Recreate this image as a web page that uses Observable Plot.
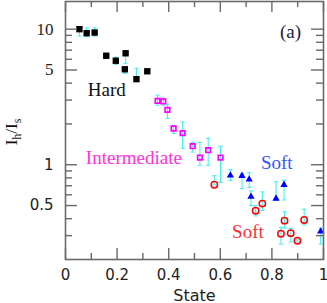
<!DOCTYPE html>
<html><head><meta charset="utf-8">
<script src="https://cdn.jsdelivr.net/npm/d3@7"></script>
<script src="https://cdn.jsdelivr.net/npm/@observablehq/plot@0.6"></script>
<style>body{margin:0;background:#fff}</style>
</head><body><div id="chart"></div>
<script>
// Hard state (filled black squares)
const hardX  = [0.054, 0.082, 0.113, 0.158, 0.195, 0.233, 0.230, 0.275, 0.317];
const hardY  = [10.0, 9.34, 9.44, 6.37, 5.85, 6.64, 5.06, 4.28, 4.89];
const hardLo = [8.9, 8.8, 8.9, 6.2, 5.5, 5.6, 4.72, 4.28, 4.8];
const hardHi = [10.4, 10.2, 10.2, 6.5, 6.2, 6.94, 5.28, 5.14, 5.0];
// Intermediate state (open magenta squares)
const interX  = [0.357, 0.379, 0.395, 0.419, 0.454, 0.493, 0.521, 0.553, 0.601];
const interY  = [2.96, 2.93, 2.54, 1.85, 1.71, 1.37, 1.13, 1.28, 1.13];
const interLo = [2.75, 2.75, 2.2, 1.7, 1.32, 1.24, 0.99, 0.99, 0.74];
const interHi = [3.26, 3.1, 2.8, 1.95, 2.06, 1.47, 1.46, 1.57, 1.37];
// Soft state (blue filled triangles)
const blueX  = [0.639, 0.684, 0.712, 0.719, 0.816, 0.847, 0.989];
const blueY  = [0.833, 0.829, 0.778, 0.582, 0.563, 0.711, 0.322];
const blueLo = [0.765, 0.667, 0.68, 0.5, 0.545, 0.55, 0.26];
const blueHi = [0.92, 0.86, 0.875, 0.64, 0.75, 0.77, 0.34];
// Soft state (open red circles)
const redX  = [0.577, 0.737, 0.763, 0.849, 0.925, 0.835, 0.873, 0.899];
const redY  = [0.711, 0.458, 0.517, 0.387, 0.391, 0.31, 0.313, 0.275];
const redLo = [0.71, 0.42, 0.46, 0.34, 0.36, 0.26, 0.27, 0.27];
const redHi = [0.83, 0.5, 0.63, 0.45, 0.47, 0.345, 0.34, 0.28];
// Ticks
const xMajor = [0, 0.2, 0.4, 0.6, 0.8, 1];
const xMinor = [0.1, 0.3, 0.5, 0.7, 0.9];
const yMajor = [0.5, 1, 5, 10];
const yMinor = [0.3, 0.4, 0.6, 0.7, 0.8, 0.9, 2, 3, 4, 6, 7, 8, 9];
// Annotations
const noteText = ["Hard", "Intermediate", "Soft", "Soft", "(a)"];
const noteX = [0.16, 0.265, 0.819, 0.707, 0.872];
const noteY = [3.2, 1.005, 0.923, 0.29, 8.62];
const noteColor = ["#111", "#ff33dd", "#3355ff", "#ff3030", "#222244"];

const W = 327, H = 303, mL = 65, mR = 4, mT = 1, mB = 44;
const fw = W - mL - mR, fh = H - mT - mB;
const axisColor = "#6a6a6a";
const errColor = "#44f0f4";

const rows = (xs, ys, lo, hi) => xs.map((x, i) => ({x, y: ys[i], lo: lo[i], hi: hi[i]}));
const hard = rows(hardX, hardY, hardLo, hardHi);
const inter = rows(interX, interY, interLo, interHi);
const blue = rows(blueX, blueY, blueLo, blueHi);
const red = rows(redX, redY, redLo, redHi);
const all = [...hard, ...inter, ...blue, ...red];
const notes = noteText.map((t, i) => ({t, x: noteX[i], y: noteY[i], c: noteColor[i]}));

const capSymbol = {draw(ctx, size) { const w = Math.sqrt(size) / 2; ctx.moveTo(-w, 0); ctx.lineTo(w, 0); }};

const chart = Plot.plot({
  width: W, height: H,
  marginLeft: mL, marginRight: mR, marginTop: mT, marginBottom: mB,
  style: {fontFamily: "DejaVu Sans", fontSize: "15px", color: "#222", background: "#fff"},
  x: {domain: [0, 1]},
  y: {type: "log", domain: [0.2, 16]},
  marks: [
    // error bars
    Plot.ruleX(all, {x: "x", y1: "lo", y2: "hi", stroke: errColor, strokeWidth: 1.1}),
    Plot.dot(all, {x: "x", y: "lo", symbol: capSymbol, r: 2.3, stroke: errColor, strokeWidth: 1.1, fill: "none"}),
    Plot.dot(all, {x: "x", y: "hi", symbol: capSymbol, r: 2.3, stroke: errColor, strokeWidth: 1.1, fill: "none"}),
    // points
    Plot.dot(hard, {x: "x", y: "y", symbol: "square", r: 3.6, fill: "#000"}),
    Plot.dot(inter, {x: "x", y: "y", symbol: "square", r: 2.6, fill: "none", stroke: "#ff00ff", strokeWidth: 1.7}),
    Plot.dot(blue, {x: "x", y: "y", symbol: "triangle", r: 2.7, fill: "#0000ff"}),
    Plot.dot(red, {x: "x", y: "y", symbol: "circle", r: 3.2, fill: "none", stroke: "#ff0000", strokeWidth: 1.5}),
    // annotations
    Plot.text(notes, {x: "x", y: "y", text: "t", fill: "c", lineAnchor: "bottom", textAnchor: "middle", fontFamily: "Liberation Serif", fontSize: 19}),
    // frame and inward ticks
    Plot.frame({stroke: axisColor, strokeWidth: 1.6}),
    Plot.tickX(xMajor, {x: d => d, insetTop: fh - 11, stroke: axisColor, strokeWidth: 1.4}),
    Plot.tickX(xMinor, {x: d => d, insetTop: fh - 6, stroke: axisColor, strokeWidth: 1.4}),
    Plot.tickX(xMajor, {x: d => d, insetBottom: fh - 11, stroke: axisColor, strokeWidth: 1.4}),
    Plot.tickX(xMinor, {x: d => d, insetBottom: fh - 6, stroke: axisColor, strokeWidth: 1.4}),
    Plot.tickY(yMajor, {y: d => d, insetRight: fw - 12, stroke: axisColor, strokeWidth: 1.4}),
    Plot.tickY(yMinor, {y: d => d, insetRight: fw - 7, stroke: axisColor, strokeWidth: 1.4}),
    Plot.tickY(yMajor, {y: d => d, insetLeft: fw - 12, stroke: axisColor, strokeWidth: 1.4}),
    Plot.tickY(yMinor, {y: d => d, insetLeft: fw - 7, stroke: axisColor, strokeWidth: 1.4}),
    // tick labels
    Plot.axisX({ticks: xMajor, tickSize: 0, tickPadding: 10, tickFormat: d => String(d), label: null, fill: "#222"}),
    Plot.axisY({ticks: yMajor, tickSize: 0, tickPadding: 12, tickFormat: d => String(d), label: null, fill: "#222"}),
    Plot.text(["State"], {frameAnchor: "bottom", dy: 41, lineAnchor: "bottom", fontSize: 16, fill: "#222"})
  ]
});

// serif-looking upper labels as in the original
d3.select(chart).selectAll("g[aria-label='y-axis tick label'] text")
  .filter(function() { const t = this.textContent; return t === "10" || t === "5"; })
  .attr("font-family", "Liberation Serif").attr("font-size", 17);

// y-axis title with subscripts
const yl = d3.select(chart).append("text")
  .attr("transform", "translate(17,132) rotate(-90)")
  .attr("text-anchor", "middle")
  .attr("font-family", "Liberation Serif")
  .attr("font-size", 17)
  .attr("fill", "#111");
yl.append("tspan").text("I");
yl.append("tspan").attr("font-size", 12).attr("dy", 4).text("h");
yl.append("tspan").attr("dy", -4).text("/I");
yl.append("tspan").attr("font-size", 12).attr("dy", 4).text("s");

document.getElementById("chart").appendChild(chart);
</script>
</body></html>
